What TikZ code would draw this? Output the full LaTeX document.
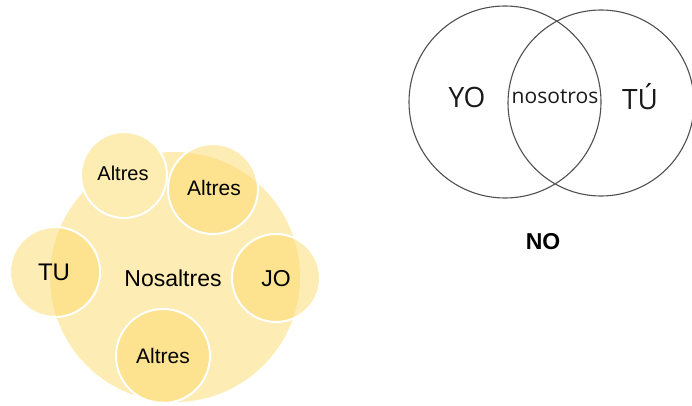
\documentclass[tikz,border=0pt]{standalone}
\usepackage{fontspec}
\setmainfont{Liberation Sans}
\newfontfamily\vennfont{Open Sans}
\definecolor{ylw}{HTML}{FCD96A}
\definecolor{ylwsolid}{HTML}{FDEDB3}
\definecolor{vennline}{HTML}{505050}
\begin{document}
\begin{tikzpicture}[x=1pt,y=-1pt,
  bigc/.style={circle,fill=ylw,fill opacity=0.5,draw=none,text opacity=1,inner sep=0pt},
  smallc/.style={circle,fill=ylw,fill opacity=0.5,draw=white,line width=2pt,draw opacity=1,text opacity=1,inner sep=0pt},
  solidc/.style={circle,fill=ylwsolid,draw=white,line width=2pt,inner sep=0pt},
  lbl/.style={font=\fontsize{21}{24}\selectfont},
  vennc/.style={circle,draw=vennline,line width=1.1pt,inner sep=0pt},
  venntxt/.style={font=\vennfont\fontsize{28}{32}\selectfont,text=black!90}]
\useasboundingbox (0,0) rectangle (692,406);
% left diagram
\node[bigc,minimum size=250pt] (big) at (175,277) {};
\node[solidc,minimum size=86pt] (tl) at (124,175) {};
\node[smallc,minimum size=90pt] (tr) at (213,189) {};
\node[smallc,minimum size=90pt] (tu) at (55,272) {};
\node[smallc,minimum size=88pt] (jo) at (276,278) {};
\node[smallc,minimum size=94pt] (bot) at (163,356) {};
\node[lbl,font=\fontsize{23}{26}\selectfont] (tNos) at (173,278) {Nosaltres};
\node[lbl,font=\fontsize{20}{24}\selectfont] (tTL) at (123,173) {Altres};
\node[lbl] (tTR) at (214,188) {Altres};
\node[lbl,font=\fontsize{24}{26}\selectfont] (tTU) at (54,272) {TU};
\node[lbl,font=\fontsize{23}{26}\selectfont] (tJO) at (276,279) {JO};
\node[lbl] (tBot) at (163,356) {Altres};
% Venn
\node[vennc,minimum size=192pt] (yo) at (505,102) {};
\node[vennc,minimum size=186pt] (tuV) at (601,103) {};
\node[venntxt] (tYO) at (467,97) {YO};
\node[venntxt,font=\vennfont\fontsize{21}{24}\selectfont] (tnos) at (555,97) {nosotros};
\node[venntxt] (tTUV) at (640,97) {TÚ};
\node[font=\bfseries\fontsize{23}{26}\selectfont] (tNO) at (543,242) {NO};
\end{tikzpicture}
\end{document}
